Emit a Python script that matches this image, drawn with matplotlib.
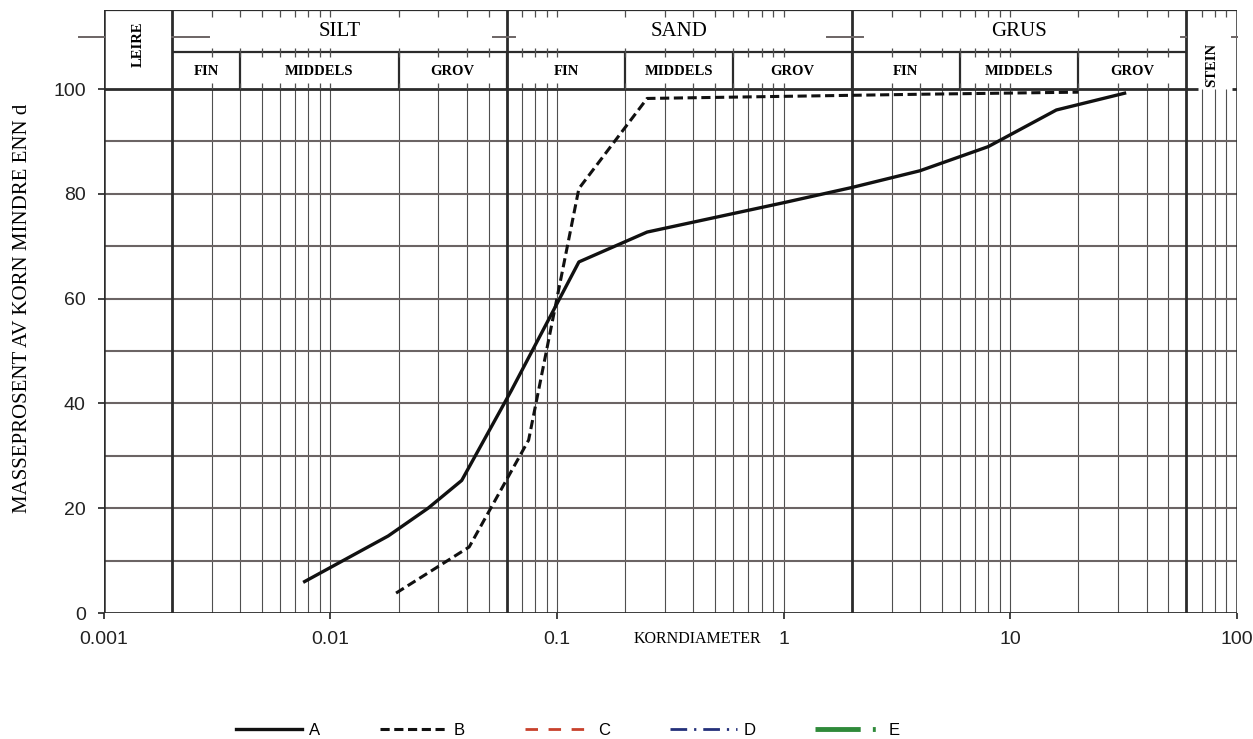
import numpy as np
import matplotlib.pyplot as plt

plt.rcParams['font.family'] = 'Liberation Sans'
SERIF = 'Liberation Serif'

# grain size distribution: diameter (mm) and mass percent finer
diam_a = [0.0077, 0.018, 0.027, 0.038, 0.063, 0.125, 0.25, 0.5, 1, 2, 4, 8, 16, 32]
pass_a = [6.0, 14.7, 20.0, 25.3, 42.5, 67.0, 72.7, 75.5, 78.3, 81.2, 84.4, 89.0, 96.0, 99.2]
diam_b = [0.0195, 0.041, 0.075, 0.125, 0.25, 1, 4, 20]
pass_b = [3.8, 12.6, 33.0, 81.0, 98.2, 98.6, 99.0, 99.4]
diam_c, pass_c = [], []
diam_d, pass_d = [], []
diam_e, pass_e = [], []

# soil fractions (Norwegian classification)
main_bounds = [0.002, 0.06, 2, 60]
main_names = ['SILT', 'SAND', 'GRUS']
sub_bounds = [0.002, 0.004, 0.02, 0.06, 0.2, 0.6, 2, 6, 20, 60]
sub_names = ['FIN', 'MIDDELS', 'GROV'] * 3

x_ticks = [0.001, 0.01, 0.1, 1, 10, 100]
x_labels = ['0.001', '0.01', '0.1', '1', '10', '100']

fig = plt.figure(figsize=(12.53, 7.39), dpi=100)
ax = fig.add_axes([0.0828, 0.1705, 0.9042, 0.8154])
ax.set_xscale('log')
ax.set_xlim(1e-3, 100)
ax.set_ylim(0, 115)
for s in ax.spines.values():
    s.set_visible(False)

dark = '#2b2b2b'
grid_v = '#4f4f4f'
grid_h = '#6b6464'

# log grid
minor_x = [k * 10.0 ** e for e in range(-3, 2) for k in range(1, 10)][1:]
ax.vlines(minor_x, 0, 100, color=grid_v, lw=0.8)
ax.hlines(np.arange(10, 100, 10), 1e-3, 100, color=grid_h, lw=1.5)

# frame and fraction boundaries
ax.vlines(main_bounds, 0, 115, color=dark, lw=2.0)
ax.vlines([1e-3, 100], 0, 115, color=dark, lw=1.8)
ax.hlines(0, 1e-3, 100, color=dark, lw=2.0)
ax.hlines(115, 1e-3, 100, color=dark, lw=1.6)
ax.hlines(107, 0.002, 60, color=dark, lw=1.6)
ax.hlines(100, 1e-3, 67.5, color=dark, lw=2.0)
ax.hlines(100, 95, 100, color=dark, lw=2.0)
ax.vlines(sub_bounds[1:-1], 100, 107, color=dark, lw=1.6)

# small ticks along the header borders
hdr_x = [x for x in minor_x if x > 0.002 and not np.any(np.isclose(x, main_bounds))]
ax.vlines(hdr_x, 113.8, 115, color=grid_v, lw=0.9)
ax.vlines([x for x in hdr_x if x < 60], 106.2, 107.8, color=grid_v, lw=0.9)
ax.vlines([x for x in hdr_x if x < 60], 100, 101.2, color=grid_v, lw=0.9)

# stubs of the 110 % line next to the boundaries
for a, b in [(0.00078, 0.001), (0.002, 0.0029), (0.052, 0.06), (0.06, 0.065),
             (1.55, 2), (2, 2.25), (57, 60), (95, 100)]:
    ax.plot([a, b], [110, 110], color=grid_h, lw=1.4, clip_on=False)

# header labels
for i, name in enumerate(main_names):
    xc = np.sqrt(main_bounds[i] * main_bounds[i + 1])
    ax.text(xc, 111, name, ha='center', va='center', family=SERIF, fontsize=15)
for i, name in enumerate(sub_names):
    xc = np.sqrt(sub_bounds[i] * sub_bounds[i + 1])
    ax.text(xc, 103.4, name, ha='center', va='center', family=SERIF,
            fontsize=10.5, fontweight='bold')
ax.text(np.sqrt(0.001 * 0.002), 108.5, 'LEIRE', rotation=90, ha='center', va='center',
        family=SERIF, fontsize=10.5, fontweight='bold')
ax.text(np.sqrt(60 * 100), 104.5, 'STEIN', rotation=90, ha='center', va='center',
        family=SERIF, fontsize=10.5, fontweight='bold')

# curves
ax.plot(diam_a, pass_a, color='#111111', lw=2.4, label='A')
ax.plot(diam_b, pass_b, color='#111111', lw=2.2, ls=(0, (3, 1.5)), label='B')
ax.plot(diam_c, pass_c, color='#c8412c', lw=2.0, ls=(0, (4.5, 3.8)), label='C')
ax.plot(diam_d, pass_d, color='#24307a', lw=2.0, ls=(0, (6, 2.5, 0.8, 2.5)), label='D')
ax.plot(diam_e, pass_e, color='#2f8a3a', lw=3.5, ls=(0, (9.3, 2.5, 0.6, 10)), label='E')

# axes ticks and labels
ax.set_yticks(range(0, 101, 20))
ax.set_xticks(x_ticks)
ax.set_xticklabels(x_labels)
ax.minorticks_off()
ax.tick_params(axis='both', direction='out', length=4, width=1.2, colors='#222222',
               labelsize=14)
ax.tick_params(axis='x', pad=9)
ax.tick_params(axis='y', pad=9)

ax.text(-0.072, 0.505, 'MASSEPROSENT AV KORN MINDRE ENN d', rotation=90,
        ha='center', va='center', family=SERIF, fontsize=15, transform=ax.transAxes)
ax.text(0.218, -0.043, 'KORNDIAMETER', ha='left', va='center', family=SERIF,
        fontsize=11.5, transform=ax.get_xaxis_transform())

fig.legend(loc='center', bbox_to_anchor=(0.453, 0.012), ncol=5, frameon=False,
           handlelength=4, handletextpad=0.4, columnspacing=3.6, fontsize=12)

fig.savefig('out.png', dpi=100)
